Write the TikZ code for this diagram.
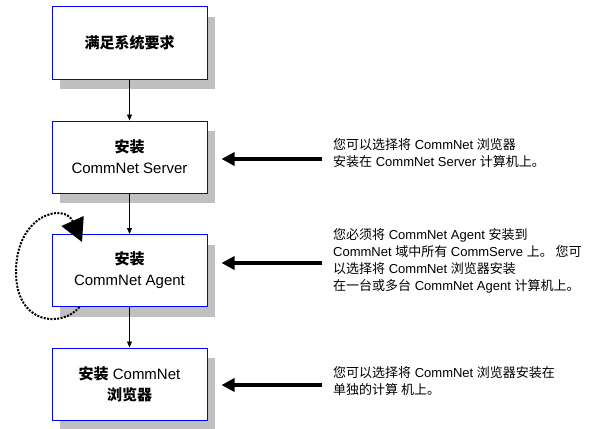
\documentclass[tikz,border=0pt]{standalone}
\usepackage{fontspec}
\setmainfont{Liberation Sans}
\newfontfamily\zhfont{Noto Sans CJK SC}
\newcommand{\zh}[1]{{\zhfont #1}}
\usetikzlibrary{arrows.meta,shadows}

\definecolor{boxblue}{RGB}{0,0,255}
\definecolor{shadowgray}{RGB}{192,192,192}

\tikzset{
  stepbox/.style={draw=boxblue, line width=1pt, fill=white,
    minimum width=155pt, minimum height=72pt, align=center,
    font=\fontsize{15}{21}\selectfont,
    drop shadow={shadow xshift=8pt, shadow yshift=-10pt, fill=shadowgray, opacity=1}},
  flow/.style={line width=0.8pt, -{Triangle[length=6pt,width=5pt]}},
  bigarrow/.style={line width=3.5pt, -{Triangle[length=13pt,width=13pt]}},
  note/.style={anchor=west, align=left, inner sep=0pt,
    font=\fontsize{13}{17}\selectfont},
  loopline/.style={line width=2pt, dash pattern=on 2pt off 1.4pt,
    -{Triangle[length=23pt,width=24pt]}}
}

\begin{document}
\begin{tikzpicture}[x=1pt,y=-1pt]
\useasboundingbox (0,0) rectangle (604,428);

\node[stepbox] (s1) at (129.5,43) {\zh{\bfseries 满足系统要求}};
\node[stepbox] (s2) at (129.5,157) {\zh{\bfseries 安装}\\CommNet Server};
\node[stepbox] (s3) at (129.5,270.5) {\zh{\bfseries 安装}\\CommNet Agent};
\node[stepbox] (s4) at (129.5,384) {\zh{\bfseries 安装} CommNet\\\zh{\bfseries 浏览器}};

\draw[flow] (s1) -- (s2);
\draw[flow] (s2) -- (s3);
\draw[flow] (s3) -- (s4);

% notes on the right
\node[note] (n2) at (333,153.5) {\zh{您可以选择将} CommNet \zh{浏览器}\\
  \zh{安装在} CommNet Server \zh{计算机上。}};
\node[note] (n3) at (333,261) {\zh{您必须将} CommNet Agent \zh{安装到}\\
  CommNet \zh{域中所有} CommServe \zh{上。 您可}\\
  \zh{以选择将} CommNet \zh{浏览器安装}\\
  \zh{在一台或多台} CommNet Agent \zh{计算机上。}};
\node[note] (n4) at (333,381) {\zh{您可以选择将} CommNet \zh{浏览器安装在}\\
  \zh{单独的计算 机上。}};

\coordinate (t2) at (322,159);
\coordinate (t3) at (322,263);
\coordinate (t4) at (322,385);
\draw[bigarrow, shorten >=14pt] (t2) -- (t2 -| s2.east);
\draw[bigarrow, shorten >=14pt] (t3) -- (t3 -| s3.east);
\draw[bigarrow, shorten >=14pt] (t4) -- (t4 -| s4.east);

% loop back onto the agent step
\coordinate (l3a) at ([xshift=28pt]s3.south west);
\coordinate (l3b) at (82,242);
\draw[loopline] (l3a) .. controls (62,328) and (16,325) .. (16,272)
  .. controls (16,215) and (64,202) .. (l3b);

\end{tikzpicture}
\end{document}
